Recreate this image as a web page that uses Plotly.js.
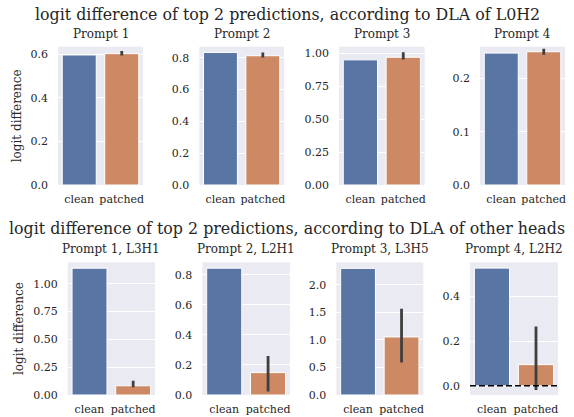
<!DOCTYPE html>
<html><head><meta charset="utf-8">
<script src="https://cdn.plot.ly/plotly-3.0.1.min.js"></script>
<style>body{margin:0;background:#fff}</style></head>
<body><div id="chart" style="width:574px;height:417px"></div>
<script>
const categories = ["clean", "patched"];
const topTitles = ["Prompt 1", "Prompt 2", "Prompt 3", "Prompt 4"];
const bottomTitles = ["Prompt 1, L3H1", "Prompt 2, L2H1", "Prompt 3, L3H5", "Prompt 4, L2H2"];
const topClean = [0.597, 0.834, 0.950, 0.248];
const topPatched = [0.603, 0.813, 0.970, 0.2505];
const topPatchedLow = [0.595, 0.802, 0.952, 0.245];
const topPatchedHigh = [0.615, 0.834, 1.007, 0.256];
const bottomClean = [1.14, 0.844, 2.30, 0.527];
const bottomPatched = [0.083, 0.149, 1.054, 0.095];
const bottomPatchedLow = [0.069, 0.024, 0.59, -0.019];
const bottomPatchedHigh = [0.128, 0.259, 1.567, 0.266];
const suptitleTop = "logit difference of top 2 predictions, according to DLA of L0H2";
const suptitleBottom = "logit difference of top 2 predictions, according to DLA of other heads";
const yLabel = "logit difference";

const W = 574, H = 417;
const FONT = "DejaVu Serif";
const TXT = "#262626";
const colors = ["#5975a4", "#cc8963"];

const xDomPx = [[58,143],[199.3,284],[339,424.7],[480,565],[67.7,155],[202.3,290],[336.3,423.3],[470,558]];
const yDomPx = [[46.7,185],[262.3,395]];
const yRanges = [[0,0.635],[0,0.87],[0,1.05],[0,0.26],[0,1.193],[0,0.883],[0,2.41],[-0.041,0.553]];
const dticks = [0.2,0.2,0.25,0.1,0.25,0.2,0.5,0.2];
const fmts = [".1f",".1f",".2f",".1f",".2f",".1f",".1f",".1f"];

const clean = topClean.concat(bottomClean);
const patched = topPatched.concat(bottomPatched);
const lo = topPatchedLow.concat(bottomPatchedLow);
const hi = topPatchedHigh.concat(bottomPatchedHigh);
const titles = topTitles.concat(bottomTitles);

const data = [];
const layout = {
  width: W, height: H,
  margin: {l:0, r:0, t:0, b:0},
  paper_bgcolor: "#ffffff",
  plot_bgcolor: "#eaeaf2",
  showlegend: false,
  font: {family: FONT, color: TXT, size: 11},
  annotations: [],
  shapes: []
};

for (let i = 0; i < 8; i++) {
  const k = i + 1;
  const sx = k === 1 ? "" : String(k);
  const row = i < 4 ? 0 : 1;
  data.push({
    type: "bar",
    x: categories,
    y: [clean[i], patched[i]],
    xaxis: "x" + sx, yaxis: "y" + sx,
    width: 0.8,
    marker: {color: colors, line: {color: "#ffffff", width: 1}},
    error_y: {
      type: "data", symmetric: false,
      array: [NaN, hi[i] - patched[i]],
      arrayminus: [NaN, patched[i] - lo[i]],
      color: "#3f3f3f", thickness: 2.8, width: 0
    },
    hoverinfo: "none"
  });
  const xd = xDomPx[i], yd = yDomPx[row];
  layout["xaxis" + sx] = {
    domain: [xd[0] / W, xd[1] / W],
    anchor: "y" + sx,
    range: [-0.5, 1.5],
    type: "category",
    showgrid: false, zeroline: false, showline: false,
    ticks: "", ticklabelstandoff: 6, tickangle: 0,
    tickfont: {family: FONT, size: 11, color: TXT},
    fixedrange: true
  };
  layout["yaxis" + sx] = {
    domain: [1 - yd[1] / H, 1 - yd[0] / H],
    anchor: "x" + sx,
    range: yRanges[i],
    dtick: dticks[i], tick0: 0,
    tickformat: fmts[i],
    showgrid: true, gridcolor: "#ffffff", gridwidth: 1,
    zeroline: false, showline: false,
    ticks: "", ticklabelstandoff: 9,
    tickfont: {family: FONT, size: 11, color: TXT},
    fixedrange: true
  };
  layout.annotations.push({
    text: titles[i], xref: "paper", yref: "paper",
    x: (xd[0] + xd[1]) / 2 / W, y: 1 - (yd[0] - 4) / H,
    xanchor: "center", yanchor: "bottom", showarrow: false,
    font: {family: FONT, size: 12, color: TXT}
  });
}
layout.yaxis.title = {text: yLabel, font: {family: FONT, size: 12, color: TXT}, standoff: 6};
layout.yaxis5.title = {text: yLabel, font: {family: FONT, size: 12, color: TXT}, standoff: 6};

layout.annotations.push({
  text: suptitleTop, xref: "paper", yref: "paper", x: 0.5, y: 1 - 14 / H,
  xanchor: "center", yanchor: "middle", showarrow: false,
  font: {family: FONT, size: 15.85, color: TXT}
});
layout.annotations.push({
  text: suptitleBottom, xref: "paper", yref: "paper", x: 0.5, y: 1 - 228.5 / H,
  xanchor: "center", yanchor: "middle", showarrow: false,
  font: {family: FONT, size: 15.85, color: TXT}
});
layout.shapes.push({
  type: "line", xref: "x8 domain", yref: "y8",
  x0: 0, x1: 1, y0: 0, y1: 0, layer: "above",
  line: {color: "#000000", width: 1.5, dash: "6px,3px"}
});

Plotly.newPlot("chart", data, layout, {displayModeBar: false, staticPlot: true});
</script>
</body></html>
